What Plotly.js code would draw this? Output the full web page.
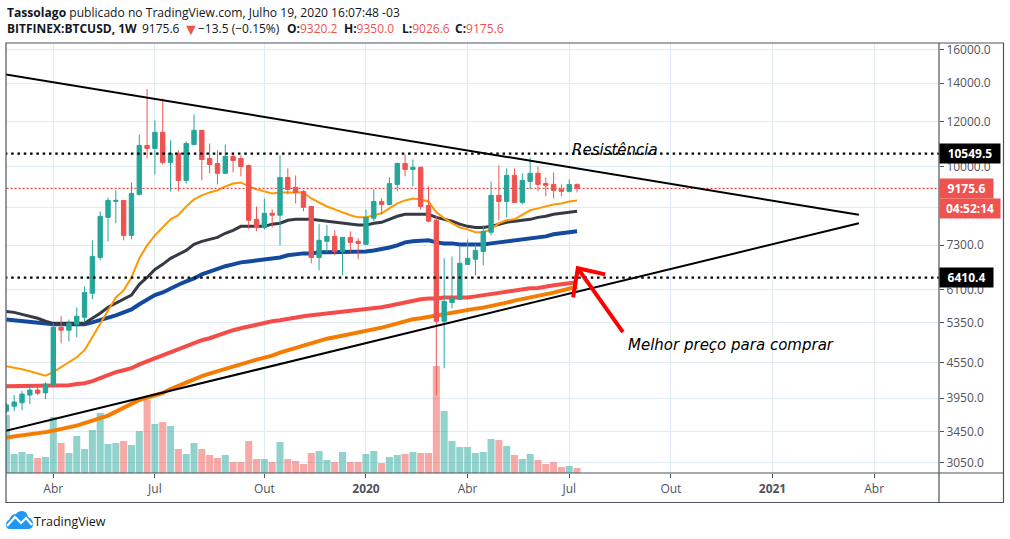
<!DOCTYPE html>
<html>
<head>
<meta charset="utf-8">
<script src="https://cdn.plot.ly/plotly-3.0.1.min.js"></script>
<style>
  html, body { margin: 0; padding: 0; background: #fff; }
  #chart { width: 1010px; height: 539px; }
</style>
</head>
<body>
<div id="chart"></div>
<script>
//  ======== DATA ========
// weekly candles BITFINEX:BTCUSD, first week 2019-02-18, last week 2020-07-13
var opens = [3750,3825,3878,4000,4080,4035,4160,5250,5190,5315,5465,6020,6950,8165,8705,8740,7595,8955,10900,10770,
  11490,10180,10560,9470,10940,11580,10340,10135,9745,10430,10340,10055,8100,7840,8300,8235,9585,9210,9065,8530,
  6950,7415,7565,7120,7535,7415,7325,8135,8705,8600,9320,10135,9900,9980,8565,8070,5380,5800,5875,6760,
  6900,7120,7690,8920,8705,9665,8670,9430,9745,9355,9320,9135,9065,9320.2];
var highs = [3875,4000,4065,4180,4145,4210,5335,5490,5420,5690,6190,7445,8365,8845,9100,8740,9395,11385,13670,12050,
  13160,11120,10690,11075,12350,11580,10985,10690,10940,10560,10475,10095,8530,8810,8430,10475,9940,9665,9100,8530,
  7945,7915,7750,7535,7720,7505,8430,9135,8810,9585,10180,10515,10300,10015,9245,8200,6925,6980,7295,7475,
  7325,7915,9430,10055,9940,9940,9745,10380,10015,9585,9780,9320,9510,9350];
var lows = [3720,3750,3765,3860,4000,3935,4130,4925,4965,5045,5355,5875,6870,7415,7975,7445,7475,8920,10340,9705,
  10095,9065,9065,9355,10940,9470,9745,9320,9705,9780,9630,7780,7720,7780,7840,7295,8955,8635,8365,6790,
  6600,7095,7010,6470,7095,6900,7325,8040,8265,8565,9065,9630,9245,8430,8005,4000,4455,5665,5875,6760,
  6470,6735,7595,8070,8165,8670,8600,9135,9065,8885,8810,8885,9025,9026.6];
var closes = [3845,3890,4015,4080,4030,4180,5250,5190,5335,5490,6040,6980,8200,8740,8740,7595,8990,10900,10770,11490,
  10180,10560,9470,10985,11580,10300,10095,9745,10430,10260,10015,8070,7840,8300,8235,9585,9135,9025,8500,6950,
  7445,7565,7120,7535,7385,7355,8165,8705,8600,9355,10135,9900,9980,8530,8040,5380,5825,5895,6790,6925,
  7150,7720,8920,8705,9665,8670,9470,9745,9320,9285,9100,9065,9320,9175.6];
// volume in pane units
var volumes = [58,19,21,19,15,16,56,30,20,37,24,43,60,29,30,32,28,42,73,49,
  51,47,24,19,30,24,18,15,18,11,11,32,14,14,11,31,14,12,9,20,
  22,13,11,21,11,11,19,22,10,16,18,19,21,20,20,107,62,32,26,26,
  20,21,34,33,27,18,14,19,13,9,11,6,7,5];

var emaThin = [4490,4470,4437,4402,4368,4325,4385,4470,4563,4655,4790,5045,5335,5620,5920,6090,6415,6925,7295,7595,
  7840,8100,8235,8530,8775,8920,9025,9100,9245,9355,9395,9245,9135,9065,8990,9025,9025,9025,9025,8810,
  8670,8530,8430,8330,8235,8165,8165,8235,8300,8465,8635,8740,8810,8775,8705,8330,8135,7975,7840,7780,
  7690,7690,7780,7975,8070,8100,8235,8400,8465,8530,8600,8635,8705,8740];
var maDark = [5595,5575,5530,5490,5445,5380,5335,5335,5335,5335,5335,5445,5555,5690,5785,5875,5975,6240,6415,6625,
  6760,6925,7035,7150,7325,7415,7475,7535,7660,7750,7875,7875,7875,7875,7945,7975,8070,8100,8100,8100,
  8070,8040,8005,7975,7945,7915,7915,7975,8005,8100,8200,8265,8265,8265,8265,8165,8100,8040,7945,7875,
  7840,7840,7875,7945,8005,8040,8070,8100,8165,8200,8265,8300,8330,8365];
var maBlue = [5420,5400,5380,5355,5335,5315,5315,5315,5315,5315,5315,5355,5400,5465,5510,5575,5640,5760,5875,5975,
  6040,6140,6230,6315,6390,6495,6570,6655,6710,6760,6815,6840,6870,6900,6925,6950,7010,7050,7065,7065,
  7095,7095,7095,7095,7120,7120,7120,7150,7180,7235,7295,7385,7415,7415,7445,7385,7355,7355,7325,7325,
  7325,7325,7355,7385,7415,7445,7475,7505,7535,7565,7630,7660,7690,7720];
var maRed = [4145,4145,4145,4145,4145,4145,4145,4155,4160,4180,4195,4230,4280,4345,4385,4420,4455,4525,4580,4635,
  4695,4750,4810,4865,4925,4985,5025,5085,5125,5190,5230,5270,5315,5335,5380,5400,5435,5465,5490,5510,
  5530,5555,5575,5585,5595,5620,5640,5665,5690,5725,5760,5800,5850,5875,5895,5895,5920,5920,5920,5920,
  5945,5975,5995,6020,6065,6090,6115,6140,6150,6190,6215,6240,6265,6290];
var maOrange = [3373,3386,3400,3413,3427,3447,3468,3489,3510,3538,3574,3603,3647,3684,3744,3790,3868,3922,3961,3993,
  4033,4098,4155,4214,4274,4317,4360,4404,4448,4493,4538,4575,4612,4649,4686,4743,4790,4828,4877,4916,
  4976,5016,5046,5077,5097,5128,5159,5201,5243,5285,5328,5382,5425,5447,5480,5502,5535,5568,5602,5636,
  5659,5682,5716,5750,5797,5844,5879,5915,5951,5987,6035,6084,6133,6182];

var weeks = closes.map(function(c, i) { return i; });

var lastPrice = 9175.6;
var resistance = 10549.5;
var support = 6410.4;
var countdownPrice = 8445;  // only places the countdown tag

// drawings: [week index], [price]
var upperLineX = [-1, 109.05];
var upperLineY = [14565, 8248];
var lowerLineX = [-1, 109.05];
var lowerLineY = [3442, 7974];
var arrowX = [78.87, 73.1, null, 72.5, 73.1, 76.6];
var arrowY = [5150, 6655, null, 5920, 6655, 6495];

var priceTicks = [16000,14000,12000,10000,8500,7300,6100,5350,4550,3950,3450,3050];
var hiddenPriceTick = 8500;  // sits under the countdown tag, only its gridline shows
var timeTicks = [6,19,33,46,59,72,85,98,111];
var timeLabels = ['Abr','Jul','Out','<b>2020</b>','Abr','Jul','Out','<b>2021</b>','Abr'];

// OHLC header, label / value / left edge in pixels
var ohlcLabels = ['O:','H:','L:','C:'];
var ohlcValues = ['9320.2','9350.0','9026.6','9175.6'];
var ohlcLefts = [287,344,402,455];

//  ======== TRACES ========
var UP = '#26a69a', DOWN = '#ef5350';
var FONT = '"Open Sans", "Noto Sans", sans-serif';
var TEXT = '#50535e', GRID = '#e1ecf2', FRAME = '#4c525e';

var volumeTrace = {
  type: 'bar', x: weeks, y: volumes, yaxis: 'y',
  width: 0.9,
  marker: {
    color: closes.map(function(c, i) {
      return c >= opens[i] ? 'rgba(38,166,154,0.5)' : 'rgba(239,83,80,0.5)';
    }),
    line: {width: 0}
  }
};

function maLine(values, color, width) {
  return {type: 'scatter', mode: 'lines', x: weeks, y: values, yaxis: 'y2',
          line: {color: color, width: width}};
}

function flatLine(price, color, width, dash, axis) {
  return {type: 'scatter', mode: 'lines', x: [-1, 125], y: [price, price], yaxis: axis,
          line: {color: color, width: width, dash: dash}};
}

var candles = {
  type: 'candlestick', x: weeks, open: opens, high: highs, low: lows, close: closes, yaxis: 'y3',
  increasing: {line: {color: UP, width: 1}, fillcolor: UP},
  decreasing: {line: {color: DOWN, width: 1}, fillcolor: DOWN},
  whiskerwidth: 0
};

var data = [
  volumeTrace,
  maLine(maOrange, '#f57c00', 4),
  maLine(maRed, '#f44c48', 4),
  maLine(maBlue, '#134a9e', 4),
  maLine(maDark, '#363a45', 3),
  maLine(emaThin, '#ff9800', 2),
  flatLine(lastPrice, '#f44336', 1.2, '2px,2px', 'y2'),
  candles,
  flatLine(resistance, '#000', 2.2, '2.5px,3.8px', 'y4'),
  flatLine(support, '#000', 2.2, '2.5px,3.8px', 'y4'),
  {type: 'scatter', mode: 'lines', x: upperLineX, y: upperLineY, yaxis: 'y4', line: {color: '#000', width: 2}},
  {type: 'scatter', mode: 'lines', x: lowerLineX, y: lowerLineY, yaxis: 'y4', line: {color: '#000', width: 2}},
  {type: 'scatter', mode: 'lines', x: arrowX, y: arrowY, yaxis: 'y4', line: {color: '#ff0000', width: 4}}
];

//  ======== LAYOUT ========
var W = 1010, H = 539;
var M = {l: 6, r: 71, t: 43, b: 66};
var plotW = W - M.l - M.r, plotH = H - M.t - M.b;
var priceRange = [Math.log10(2925), Math.log10(16445)];

function overlayAxis() {
  return {type: 'log', range: priceRange, overlaying: 'y', visible: false, fixedrange: true};
}

function priceTag(price, label) {
  return {
    xref: 'paper', x: 1, xanchor: 'left', yref: 'y2', y: Math.log10(price), yanchor: 'middle',
    text: '<b>' + label.text + '</b>', showarrow: false, width: label.width, height: 18.5,
    bgcolor: label.bg, borderpad: 0, align: 'center',
    font: {family: FONT, size: 12, color: '#fff'}
  };
}

function noteText(text, week, price, size) {
  return {
    xref: 'x', x: week, yref: 'y2', y: Math.log10(price), text: '<i>' + text + '</i>', showarrow: false,
    font: {family: '"DejaVu Sans", sans-serif', size: size, color: '#000'}
  };
}

// the annotation box has 2px of padding, so the text starts 2px right of px
function pageText(text, px, py, size, color) {
  return {
    xref: 'paper', yref: 'paper', x: (px - 2 - M.l) / plotW, y: 1 - (py - M.t) / plotH,
    xanchor: 'left', yanchor: 'middle', align: 'left', text: text, showarrow: false,
    font: {family: FONT, size: size, color: color || '#131722'}
  };
}

function redText(t) { return '<span style="color:' + DOWN + '">' + t + '</span>'; }

var logo = 'data:image/svg+xml;utf8,' + encodeURIComponent(
  '<svg xmlns="http://www.w3.org/2000/svg" width="27" height="18" viewBox="0 0 27 18">' +
  '<path fill="#2196f3" d="M0 14 Q0 10 3 9 Q5 3 10 3 Q12 0 16 0 Q21 0 22 6 Q27 8 27 13 Q27 18 22 18 L4 18 Q0 18 0 14 Z"/>' +
  '<path fill="none" stroke="#fff" stroke-width="2.2" d="M1 15 L9 6 L15 12 L20 7 L26 14"/>' +
  '</svg>');

var notes = [
  pageText('<b>Tassolago</b> publicado no TradingView.com, Julho 19, 2020 16:07:48 -03', 7, 12, 12.1),
  pageText('<b>BITFINEX:BTCUSD, 1W</b>', 7, 29, 12),
  pageText('9175.6', 142, 29, 12),
  pageText('▼', 183, 29, 16, DOWN),
  pageText('−13.5 (−0.15%)', 198, 29, 12),
  pageText('TradingView', 34, 521, 12.5),
  noteText('Resistência', 77.85, 10690, 15),
  noteText('Melhor preço para comprar', 92.7, 4885, 15),
  priceTag(resistance, {text: '10549.5', width: 60, bg: '#000'}),
  priceTag(lastPrice, {text: '9175.6', width: 53, bg: DOWN}),
  priceTag(countdownPrice, {text: '04:52:14', width: 60, bg: DOWN}),
  priceTag(support, {text: '6410.4', width: 53, bg: '#000'})
];
ohlcLabels.forEach(function(lab, i) {
  notes.push(pageText('<b>' + lab + '</b>' + redText(ohlcValues[i]), ohlcLefts[i], 29, 12));
});

var layout = {
  width: W, height: H,
  margin: {l: M.l, r: M.r, t: M.t, b: M.b, pad: 0, autoexpand: false},
  paper_bgcolor: '#fff', plot_bgcolor: '#fff',
  showlegend: false,
  barmode: 'overlay',
  boxgap: 0.2,
  xaxis: {
    type: 'linear', range: [-0.05, 119.3], fixedrange: true,
    rangeslider: {visible: false},
    tickmode: 'array', tickvals: timeTicks, ticktext: timeLabels,
    ticks: 'outside', ticklen: 4, tickcolor: FRAME, tickwidth: 1,
    ticklabelstandoff: 1,
    tickfont: {family: FONT, size: 12, color: TEXT},
    showgrid: true, gridcolor: GRID, gridwidth: 1, zeroline: false,
    showline: false
  },
  yaxis: {type: 'linear', range: [0, 430], visible: false, fixedrange: true},
  yaxis2: {
    type: 'log', range: priceRange, overlaying: 'y', side: 'right', fixedrange: true,
    tickmode: 'array', tickvals: priceTicks,
    ticktext: priceTicks.map(function(v) { return v === hiddenPriceTick ? '' : v.toFixed(1); }),
    ticks: 'outside', ticklen: 4, tickcolor: FRAME, tickwidth: 1,
    tickfont: {family: FONT, size: 12, color: TEXT},
    showgrid: true, gridcolor: GRID, gridwidth: 1, zeroline: false
  },
  yaxis3: overlayAxis(),
  yaxis4: overlayAxis(),
  shapes: [
    {type: 'rect', xref: 'paper', yref: 'paper', x0: 0, x1: (1003.5 - M.l) / plotW, y0: -(502.5 - 473) / plotH, y1: 1,
     line: {color: FRAME, width: 1.2}, fillcolor: 'rgba(0,0,0,0)'},
    {type: 'line', xref: 'paper', yref: 'paper', x0: 0, x1: (1003.5 - M.l) / plotW, y0: 0, y1: 0,
     line: {color: FRAME, width: 1.2}},
    {type: 'line', xref: 'paper', yref: 'paper', x0: 1, x1: 1, y0: -(502.5 - 473) / plotH, y1: 1,
     line: {color: FRAME, width: 1.2}}
  ],
  annotations: notes,
  images: [{
    source: logo, xref: 'paper', yref: 'paper', xanchor: 'left', yanchor: 'top',
    x: (6 - M.l) / plotW, y: 1 - (511 - M.t) / plotH, sizex: 27 / plotW, sizey: 18 / plotH, sizing: 'stretch'
  }]
};

Plotly.newPlot('chart', data, layout, {staticPlot: true, displayModeBar: false});
</script>
</body>
</html>
